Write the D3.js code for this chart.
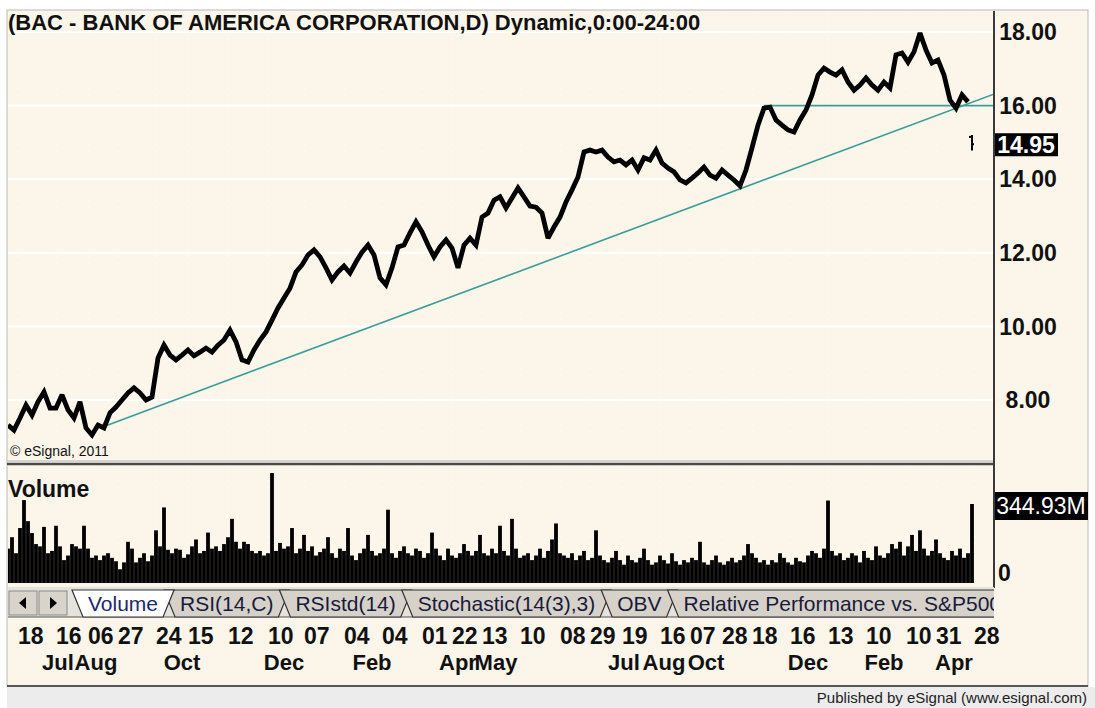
<!DOCTYPE html>
<html>
<head>
<meta charset="utf-8">
<script src="https://cdn.jsdelivr.net/npm/d3@7"></script>
<style>
  body { margin: 0; background: #fff; }
</style>
</head>
<body>
<div id="chart"></div>
<script>
/* global d3 */

// ---------------- data
// one sampled close every 3 trading days
const closeStep = 3
const closes = [
  7.32, 7.18, 7.51, 7.86, 7.59, 7.95, 8.22, 7.78, 7.78, 8.14,
  7.73, 7.51, 7.95, 7.24, 7.05, 7.32, 7.24, 7.65, 7.81, 8.00,
  8.19, 8.33, 8.19, 8.00, 8.08, 9.14, 9.49, 9.22, 9.09, 9.22,
  9.36, 9.20, 9.30, 9.41, 9.30, 9.49, 9.63, 9.90, 9.58, 9.09,
  9.03, 9.36, 9.63, 9.85, 10.17, 10.50, 10.77, 11.04, 11.48, 11.67,
  11.94, 12.08, 11.89, 11.59, 11.26, 11.48, 11.64, 11.45, 11.75, 12.02,
  12.21, 11.94, 11.32, 11.13, 11.59, 12.16, 12.21, 12.54, 12.84, 12.57,
  12.21, 11.89, 12.16, 12.35, 12.13, 11.59, 12.21, 12.40, 12.21, 12.97,
  13.08, 13.43, 13.52, 13.22, 13.49, 13.76, 13.52, 13.27, 13.24, 13.08,
  12.40, 12.70, 12.97, 13.38, 13.71, 14.06, 14.74, 14.79, 14.74, 14.79,
  14.60, 14.47, 14.52, 14.39, 14.52, 14.25, 14.58, 14.52, 14.79, 14.44,
  14.30, 14.20, 13.98, 13.90, 14.03, 14.17, 14.33, 14.11, 14.03, 14.25,
  14.11, 13.98, 13.82, 14.25, 14.85, 15.47, 15.93, 15.96, 15.61, 15.47,
  15.34, 15.28, 15.61, 15.88, 16.29, 16.83, 17.02, 16.91, 16.83, 16.97,
  16.64, 16.42, 16.56, 16.75, 16.56, 16.42, 16.64, 16.48, 17.38, 17.43,
  17.18, 17.46, 17.97, 17.51, 17.16, 17.24, 16.83, 16.15, 15.93, 16.29,
  16.10
]
// the final session, gapped down
const lastBar = { day: 482, open: 15.15, high: 15.2, low: 14.78, close: 14.95 }

// volume in millions, one bar every 2 trading days
const volStep = 2
const volumes = [
  150, 200, 130, 240, 362, 270, 218, 170, 160, 245,
  130, 140, 250, 160, 100, 120, 170, 160, 150, 250,
  150, 110, 120, 100, 120, 130, 110, 95, 60, 90,
  180, 150, 90, 110, 130, 95, 120, 230, 160, 330,
  145, 130, 150, 145, 110, 125, 160, 190, 130, 140,
  220, 150, 160, 140, 170, 200, 280, 180, 150, 180,
  170, 140, 130, 140, 120, 130, 480, 140, 175, 150,
  160, 240, 130, 150, 210, 140, 160, 120, 135, 150,
  200, 130, 110, 150, 140, 240, 120, 100, 130, 150,
  210, 140, 120, 130, 150, 320, 130, 110, 140, 160,
  130, 120, 150, 140, 110, 130, 220, 150, 120, 100,
  150, 120, 110, 130, 170, 140, 120, 140, 210, 130,
  120, 150, 130, 250, 140, 120, 280, 150, 110, 120,
  130, 100, 120, 150, 110, 140, 190, 260, 130, 120,
  110, 130, 100, 120, 140, 100, 110, 230, 120, 100,
  90, 110, 140, 100, 80, 120, 100, 90, 110, 150,
  100, 80, 90, 120, 100, 85, 130, 95, 80, 100,
  90, 110, 100, 180, 90, 80, 100, 120, 90, 80,
  95, 110, 90, 100, 120, 170, 130, 110, 90, 100,
  80, 100, 90, 130, 110, 90, 80, 110, 95, 90,
  120, 140, 130, 110, 150, 360, 140, 120, 130, 100,
  110, 130, 120, 90, 140, 110, 100, 160, 120, 110,
  130, 170, 150, 180, 120, 160, 210, 140, 230, 150,
  120, 140, 190, 130, 110, 100, 140, 120, 150, 110,
  130, 344.93
]
const lastVolume = 344.93

const priceTicks = [8, 10, 12, 14, 16, 18]

// date axis: day-of-month labels and month labels, by trading-day index
const dayLabels = ["18","16","06","27","24","15","12","10","07","04","04","01","22","13",
                   "10","08","29","19","16","07","28","18","16","13","10","10","31","28"]
const dayLabelDays = [5, 24, 40, 55, 74, 90, 110, 130, 148, 168, 187, 207, 222, 237,
                      256, 276, 291, 307, 326, 341, 357, 372, 391, 410, 429, 449, 464, 483]
const monthLabels = ["Jul","Aug","Oct","Dec","Feb","Apr","May","Jul","Aug","Oct","Dec","Feb","Apr"]
const monthLabelDays = [25, 44, 87, 138, 182, 225, 244, 308, 328, 349, 400, 438, 473]

// trend line through the two lows, and the horizontal line at the Dec high
const trendDays = [49, 480]
const trendPrices = [7.30, 16.05]
const resistDay = 378
const resistPrice = 16.0

const tabLabels = ["Volume", "RSI(14,C)", "RSIstd(14)", "Stochastic(14(3),3)", "OBV", "Relative Performance vs. S&P500"]

// ---------------- layout
const dims = {
  width: 1095, height: 708,
  left: 8, right: 993, axisX: 994,
  priceTop: 11, priceBottom: 459,
  volTop: 466, volBottom: 583
}
const cream = "#fcf6ea"
const ink = "#111"
const teal = "#3a9d99"
const font = "Arial, 'Liberation Sans', sans-serif"

const svg = d3.select("#chart").append("svg")
  .attr("width", dims.width)
  .attr("height", dims.height)
  .style("font-family", font)

svg.append("rect").attr("width", dims.width).attr("height", dims.height).attr("fill", "#fff")

// outer frame
svg.append("rect")
  .attr("x", 7).attr("y", 10)
  .attr("width", 1081).attr("height", 677)
  .attr("fill", cream)
  .attr("stroke", "#b9b9b9")

// ---------------- scales
const xScale = d3.scaleLinear().domain([0, 492.5]).range([dims.left, dims.right])
const yScale = d3.scaleLinear().domain([8, 18]).range([400, 32])
const vScale = d3.scaleLinear().domain([0, lastVolume]).range([dims.volBottom, 504])

const priceData = closes.map((c, i) => ({ day: i * closeStep, close: c }))
const volData = volumes.map((v, i) => ({ day: i * volStep, vol: v }))

// clip paths
const defs = svg.append("defs")
defs.append("clipPath").attr("id", "clipPrice").append("rect")
  .attr("x", dims.left).attr("y", dims.priceTop)
  .attr("width", dims.right - dims.left).attr("height", dims.priceBottom - dims.priceTop)
defs.append("clipPath").attr("id", "clipVol").append("rect")
  .attr("x", dims.left).attr("y", dims.volTop)
  .attr("width", dims.right - dims.left).attr("height", dims.volBottom - dims.volTop + 2)

// ---------------- price panel
const pricePanel = svg.append("g").attr("clip-path", "url(#clipPrice)")

// dotted vertical grid at the date ticks
pricePanel.selectAll("line.vgrid")
  .data(dayLabelDays)
  .join("line")
  .attr("x1", d => xScale(d)).attr("x2", d => xScale(d))
  .attr("y1", dims.priceTop).attr("y2", dims.priceBottom)
  .attr("stroke", "#fff").attr("stroke-dasharray", "1,6")

// solid white horizontal grid
pricePanel.selectAll("line.hgrid")
  .data(priceTicks)
  .join("line")
  .attr("x1", dims.left).attr("x2", dims.right)
  .attr("y1", d => yScale(d)).attr("y2", d => yScale(d))
  .attr("stroke", "#fff").attr("stroke-width", 2)

// trend line, extended to the right edge
const trendSlope = (trendPrices[1] - trendPrices[0]) / (trendDays[1] - trendDays[0])
const trendEndDay = xScale.invert(dims.right)
pricePanel.append("line")
  .attr("x1", xScale(trendDays[0])).attr("y1", yScale(trendPrices[0]))
  .attr("x2", xScale(trendEndDay))
  .attr("y2", yScale(trendPrices[0] + trendSlope * (trendEndDay - trendDays[0])))
  .attr("stroke", teal).attr("stroke-width", 1.6)

pricePanel.append("line")
  .attr("x1", xScale(resistDay)).attr("y1", yScale(resistPrice))
  .attr("x2", dims.right).attr("y2", yScale(resistPrice))
  .attr("stroke", teal).attr("stroke-width", 1.6)

// price line (thick, the bars are packed tight in the original)
const lineGenerator = d3.line()
  .x(d => xScale(d.day))
  .y(d => yScale(d.close))

pricePanel.append("path")
  .datum(priceData)
  .attr("d", lineGenerator)
  .attr("fill", "none")
  .attr("stroke", "#000")
  .attr("stroke-width", 4.8)
  .attr("stroke-linejoin", "miter")
  .attr("stroke-miterlimit", 2.5)

// last bar
const lb = pricePanel.append("g").attr("stroke", "#000").attr("stroke-width", 2)
lb.append("line")
  .attr("x1", xScale(lastBar.day)).attr("x2", xScale(lastBar.day))
  .attr("y1", yScale(lastBar.high)).attr("y2", yScale(lastBar.low))
lb.append("line")
  .attr("x1", xScale(lastBar.day) - 3).attr("x2", xScale(lastBar.day))
  .attr("y1", yScale(lastBar.open)).attr("y2", yScale(lastBar.open))
lb.append("line")
  .attr("x1", xScale(lastBar.day)).attr("x2", xScale(lastBar.day) + 2)
  .attr("y1", yScale(lastBar.close)).attr("y2", yScale(lastBar.close))

// title
svg.append("text")
  .attr("x", 8).attr("y", 30)
  .text("(BAC - BANK OF AMERICA CORPORATION,D) Dynamic,0:00-24:00")
  .style("font-size", "22px").style("font-weight", "bold").attr("fill", ink)

svg.append("text")
  .attr("x", 10).attr("y", 456)
  .text("\u00a9 eSignal, 2011")
  .style("font-size", "14px").attr("fill", ink)

// price axis labels
svg.selectAll("text.plabel")
  .data(priceTicks)
  .join("text")
  .attr("x", 1028).attr("y", d => yScale(d))
  .attr("dy", "0.36em")
  .attr("text-anchor", "middle")
  .text(d3.format(".2f"))
  .style("font-size", "23px").style("font-weight", "bold").attr("fill", ink)

svg.append("rect")
  .attr("x", dims.axisX).attr("y", yScale(lastBar.close) - 11)
  .attr("width", 64).attr("height", 23).attr("fill", "#000")
svg.append("text")
  .attr("x", 1026).attr("y", yScale(lastBar.close))
  .attr("dy", "0.36em").attr("text-anchor", "middle")
  .text(d3.format(".2f")(lastBar.close))
  .style("font-size", "23px").style("font-weight", "bold").attr("fill", "#fff")

// panel separator
svg.append("line").attr("x1", 7).attr("x2", dims.axisX)
  .attr("y1", 461).attr("y2", 461).attr("stroke", "#c8c8c8").attr("stroke-width", 1.5)
svg.append("line").attr("x1", 7).attr("x2", dims.axisX)
  .attr("y1", 464).attr("y2", 464).attr("stroke", "#4a4a4a").attr("stroke-width", 2.5)

// ---------------- volume panel
const volPanel = svg.append("g").attr("clip-path", "url(#clipVol)")

volPanel.selectAll("line.vgrid")
  .data(dayLabelDays)
  .join("line")
  .attr("x1", d => xScale(d)).attr("x2", d => xScale(d))
  .attr("y1", dims.volTop).attr("y2", dims.volBottom)
  .attr("stroke", "#fff").attr("stroke-dasharray", "1,6")

volPanel.selectAll("rect.vol")
  .data(volData)
  .join("rect")
  .attr("x", d => xScale(d.day) - 1.9)
  .attr("width", 3.8)
  .attr("y", d => vScale(d.vol))
  .attr("height", d => dims.volBottom - vScale(d.vol))
  .attr("fill", "#000")

svg.append("text")
  .attr("x", 8).attr("y", 497)
  .text("Volume")
  .style("font-size", "23px").style("font-weight", "bold").attr("fill", ink)

svg.append("rect")
  .attr("x", dims.axisX).attr("y", vScale(lastVolume) - 12)
  .attr("width", 94).attr("height", 28).attr("fill", "#000")
svg.append("text")
  .attr("x", 1041).attr("y", vScale(lastVolume) + 2)
  .attr("dy", "0.36em").attr("text-anchor", "middle")
  .text(d3.format(".2f")(lastVolume) + "M")
  .style("font-size", "23px").attr("fill", "#fff")

svg.append("text")
  .attr("x", 998).attr("y", 573)
  .attr("dy", "0.36em")
  .text("0")
  .style("font-size", "23px").style("font-weight", "bold").attr("fill", ink)

// right axis line
svg.append("line")
  .attr("x1", dims.axisX).attr("x2", dims.axisX)
  .attr("y1", 11).attr("y2", 588)
  .attr("stroke", "#3a3a3a").attr("stroke-width", 2)

// ---------------- tab bar
const tabTop = 590, tabBottom = 617
svg.append("rect")
  .attr("x", 8).attr("y", 587).attr("width", dims.axisX - 8).attr("height", tabBottom - 587)
  .attr("fill", "#e6e3dc")
svg.append("line").attr("x1", 8).attr("x2", dims.axisX)
  .attr("y1", tabBottom).attr("y2", tabBottom).attr("stroke", "#555")

// scroll buttons
const btns = svg.append("g")
;[9, 39].forEach((bx, i) => {
  btns.append("rect").attr("x", bx).attr("y", 591).attr("width", 28).attr("height", 24)
    .attr("fill", "#d8d4cc").attr("stroke", "#8a8a8a")
  const cx = bx + 14, cy = 603
  const pts = i === 0
    ? [[cx - 4, cy], [cx + 3, cy - 6], [cx + 3, cy + 6]]
    : [[cx + 4, cy], [cx - 3, cy - 6], [cx - 3, cy + 6]]
  btns.append("path").attr("d", d3.line()(pts) + "Z").attr("fill", "#000")
})

// tabs: measure labels, lay out left to right, draw unselected ones then the active one
defs.append("clipPath").attr("id", "clipTabs")
  .append("rect").attr("x", 8).attr("y", 580).attr("width", dims.axisX - 8).attr("height", 40)
const tabLayer = svg.append("g").attr("clip-path", "url(#clipTabs)")

const slant = 11
const tabPad = 16
const tabFont = "21px"
let textX = 88
const tabBoxes = tabLabels.map(label => {
  const t = svg.append("text").text(label).style("font-size", tabFont)
  const w = t.node().getComputedTextLength()
  t.remove()
  const box = { label, textX, x0: textX - tabPad, x1: textX + w + tabPad }
  textX += w + 22
  return box
})

function tabPath (b) {
  return `M${b.x0},${tabTop} L${b.x1},${tabTop} L${b.x1 - slant},${tabBottom} L${b.x0 + slant},${tabBottom} Z`
}

const ordered = tabBoxes.slice(1).concat([tabBoxes[0]])
ordered.forEach(b => {
  const active = b === tabBoxes[0]
  tabLayer.append("path").attr("d", tabPath(b))
    .attr("fill", active ? "#fff" : "#d6d2ca")
    .attr("stroke", "#333").attr("stroke-width", 1.2)
  tabLayer.append("text")
    .attr("x", b.textX).attr("y", 611)
    .text(b.label)
    .style("font-size", tabFont)
    .attr("fill", active ? "#1a2a6c" : "#1a1a3a")
})

// ---------------- date labels
svg.selectAll("text.dlabel")
  .data(dayLabels)
  .join("text")
  .attr("x", (d, i) => xScale(dayLabelDays[i]))
  .attr("y", 644)
  .text(d => d)
  .style("font-size", "23px").style("font-weight", "bold").attr("fill", ink)

svg.selectAll("text.mlabel")
  .data(monthLabels)
  .join("text")
  .attr("x", (d, i) => xScale(monthLabelDays[i]))
  .attr("y", 670)
  .attr("text-anchor", "middle")
  .text(d => d)
  .style("font-size", "22px").style("font-weight", "bold").attr("fill", ink)

// ---------------- footer
svg.append("line").attr("x1", 7).attr("x2", 1088)
  .attr("y1", 686).attr("y2", 686).attr("stroke", "#555").attr("stroke-width", 2)
svg.append("rect")
  .attr("x", 7).attr("y", 687).attr("width", 1088).attr("height", 21)
  .attr("fill", "#ececec")
svg.append("text")
  .attr("x", 1087).attr("y", 703)
  .attr("text-anchor", "end")
  .text("Published by eSignal (www.esignal.com)")
  .style("font-size", "15px").attr("fill", "#222")
</script>
</body>
</html>
